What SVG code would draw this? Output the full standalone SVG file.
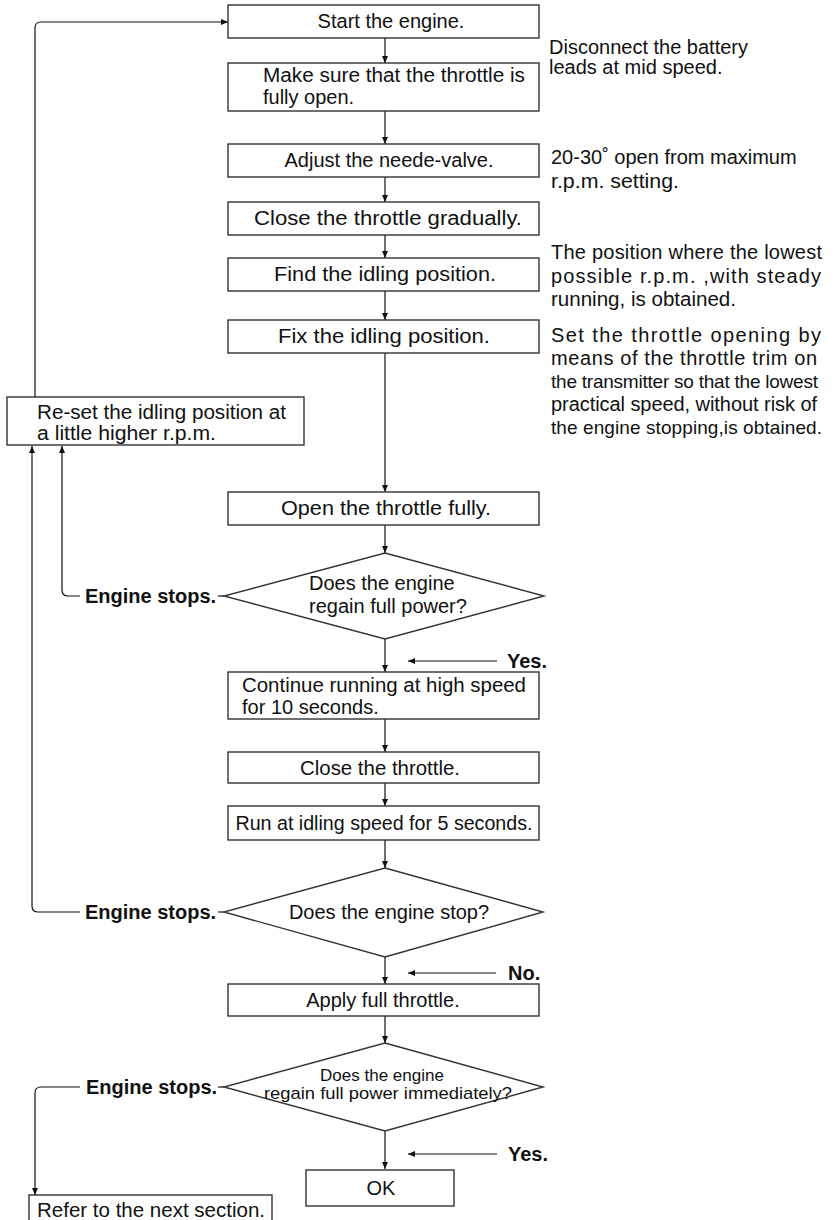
<svg xmlns="http://www.w3.org/2000/svg" width="832" height="1220" viewBox="0 0 832 1220">
<defs>
<marker id="ah" markerUnits="userSpaceOnUse" markerWidth="8" markerHeight="8" refX="7" refY="3" orient="auto">
<path d="M0,0 L7,3 L0,6 Z" fill="#111"/>
</marker>
<style>
.box{fill:#fff;stroke:#333;stroke-width:1.4}
.t{font-family:"Liberation Sans",Arial,sans-serif;font-size:20px;fill:#111}
.c{text-anchor:middle}
.b{font-weight:bold}
.s{font-size:17px}
.n{font-size:19px}
.ln{fill:none;stroke:#111;stroke-width:1.2}
.ar{fill:none;stroke:#111;stroke-width:1.2;marker-end:url(#ah)}
</style>
</defs>
<rect width="832" height="1220" fill="#fff"/>

<g id="connectors">
<path class="ar" d="M385,38 V63"/>
<path class="ar" d="M385,111 V144"/>
<path class="ar" d="M385,177 V202"/>
<path class="ar" d="M385,235 V258"/>
<path class="ar" d="M385,291 V320"/>
<path class="ar" d="M385,353 V492"/>
<path class="ar" d="M385,525 V553"/>
<path class="ar" d="M385,639 V672"/>
<path class="ar" d="M385,719 V752"/>
<path class="ar" d="M385,783 V806"/>
<path class="ar" d="M385,840 V868"/>
<path class="ar" d="M385,957 V984"/>
<path class="ar" d="M385,1016 V1043"/>
<path class="ar" d="M385,1131 V1169"/>
<path class="ar" d="M497,661 H408"/>
<path class="ar" d="M496,973 H408"/>
<path class="ar" d="M497,1154 H408"/>
<path class="ar" d="M35,397 V28 Q35,22 41,22 H228"/>
<path class="ln" d="M224,596 H218"/>
<path class="ar" d="M80,596 H68 Q62,596 62,590 V446"/>
<path class="ln" d="M224,912 H218"/>
<path class="ar" d="M80,912 H38 Q32,912 32,906 V446"/>
<path class="ln" d="M224,1087 H218"/>
<path class="ar" d="M80,1087 H41 Q35,1087 35,1093 V1195"/>
</g>

<g id="start"><rect class="box" x="228" y="5" width="311" height="33"/><text class="t c" x="391" y="28">Start the engine.</text></g>
<g id="make-sure"><rect class="box" x="228" y="63" width="311" height="48"/><text class="t" x="263" y="82" textLength="262" lengthAdjust="spacingAndGlyphs">Make sure that the throttle is</text><text class="t" x="263" y="104">fully open.</text></g>
<g id="note-battery"><text class="t" x="549" y="54">Disconnect the battery</text><text class="t" x="549" y="74">leads at mid speed.</text></g>
<g id="adjust"><rect class="box" x="228" y="144" width="311" height="33"/><text class="t c" x="389" y="167">Adjust the neede-valve.</text></g>
<g id="note-needle"><text class="t" x="551" y="164">20-30˚ open from maximum</text><text class="t" x="551" y="188" textLength="128" lengthAdjust="spacingAndGlyphs">r.p.m. setting.</text></g>
<g id="close-gradually"><rect class="box" x="228" y="202" width="311" height="33"/><text class="t c" x="388" y="225" textLength="268" lengthAdjust="spacingAndGlyphs">Close the throttle gradually.</text></g>
<g id="find-idling"><rect class="box" x="228" y="258" width="311" height="33"/><text class="t c" x="385" y="281" textLength="222" lengthAdjust="spacingAndGlyphs">Find the idling position.</text></g>
<g id="note-find"><text class="t" x="551" y="259" textLength="271" lengthAdjust="spacing">The position where the lowest</text><text class="t" x="551" y="283" textLength="270" lengthAdjust="spacing">possible r.p.m. ,with steady</text><text class="t" x="551" y="306" textLength="185" lengthAdjust="spacingAndGlyphs">running, is obtained.</text></g>
<g id="fix-idling"><rect class="box" x="228" y="320" width="311" height="33"/><text class="t c" x="384" y="343" textLength="212" lengthAdjust="spacingAndGlyphs">Fix the idling position.</text></g>
<g id="note-fix"><text class="t" x="551" y="342" textLength="270" lengthAdjust="spacing">Set the throttle opening by</text><text class="t" x="551" y="365" textLength="266" lengthAdjust="spacing">means of the throttle trim on</text><text class="t n" x="551" y="388" textLength="267" lengthAdjust="spacing">the transmitter so that the lowest</text><text class="t" x="551" y="411" textLength="266" lengthAdjust="spacing">practical speed, without risk of</text><text class="t n" x="551" y="434" textLength="271" lengthAdjust="spacing">the engine stopping,is obtained.</text></g>
<g id="reset"><rect class="box" x="7" y="397" width="297" height="48"/><text class="t" x="37" y="419" textLength="249" lengthAdjust="spacingAndGlyphs">Re-set the idling position at</text><text class="t" x="37" y="440" textLength="179" lengthAdjust="spacingAndGlyphs">a little higher r.p.m.</text></g>
<g id="open-fully"><rect class="box" x="228" y="492" width="311" height="33"/><text class="t c" x="386" y="515" textLength="210" lengthAdjust="spacingAndGlyphs">Open the throttle fully.</text></g>
<g id="decision-power"><path class="box" d="M385,553 L544,596 L385,639 L224,596 Z"/><text class="t" x="309" y="590">Does the engine</text><text class="t" x="309" y="613">regain full power?</text></g>
<g id="label-stop1"><text class="t b" x="85" y="603">Engine stops.</text></g>
<g id="label-yes1"><text class="t b" x="507" y="668">Yes.</text></g>
<g id="continue"><rect class="box" x="228" y="672" width="311" height="47"/><text class="t" x="242" y="692" textLength="284" lengthAdjust="spacingAndGlyphs">Continue running at high speed</text><text class="t" x="242" y="714">for 10 seconds.</text></g>
<g id="close-throttle"><rect class="box" x="228" y="752" width="311" height="31"/><text class="t c" x="380" y="775" textLength="160" lengthAdjust="spacingAndGlyphs">Close the throttle.</text></g>
<g id="run-idle"><rect class="box" x="228" y="806" width="311" height="34"/><text class="t c" x="384" y="830" textLength="297" lengthAdjust="spacingAndGlyphs">Run at idling speed for 5 seconds.</text></g>
<g id="decision-stop"><path class="box" d="M385,868 L543,912 L385,957 L224,912 Z"/><text class="t c" x="389" y="919">Does the engine stop?</text></g>
<g id="label-stop2"><text class="t b" x="85" y="919">Engine stops.</text></g>
<g id="label-no"><text class="t b" x="508" y="980">No.</text></g>
<g id="apply"><rect class="box" x="228" y="984" width="311" height="32"/><text class="t c" x="383" y="1007">Apply full throttle.</text></g>
<g id="decision-immediate"><path class="box" d="M385,1043 L543,1087 L385,1131 L224,1087 Z"/><text class="t s c" x="382" y="1081">Does the engine</text><text class="t s c" x="388" y="1099" textLength="248" lengthAdjust="spacingAndGlyphs">regain full power immediately?</text></g>
<g id="label-stop3"><text class="t b" x="86" y="1094">Engine stops.</text></g>
<g id="label-yes2"><text class="t b" x="508" y="1161">Yes.</text></g>
<g id="ok"><rect class="box" x="306" y="1170" width="148" height="36"/><text class="t c" x="381" y="1195">OK</text></g>
<g id="refer"><rect class="box" x="29" y="1195" width="243" height="34"/><text class="t" x="37" y="1217" textLength="228" lengthAdjust="spacingAndGlyphs">Refer to the next section.</text></g>
</svg>
